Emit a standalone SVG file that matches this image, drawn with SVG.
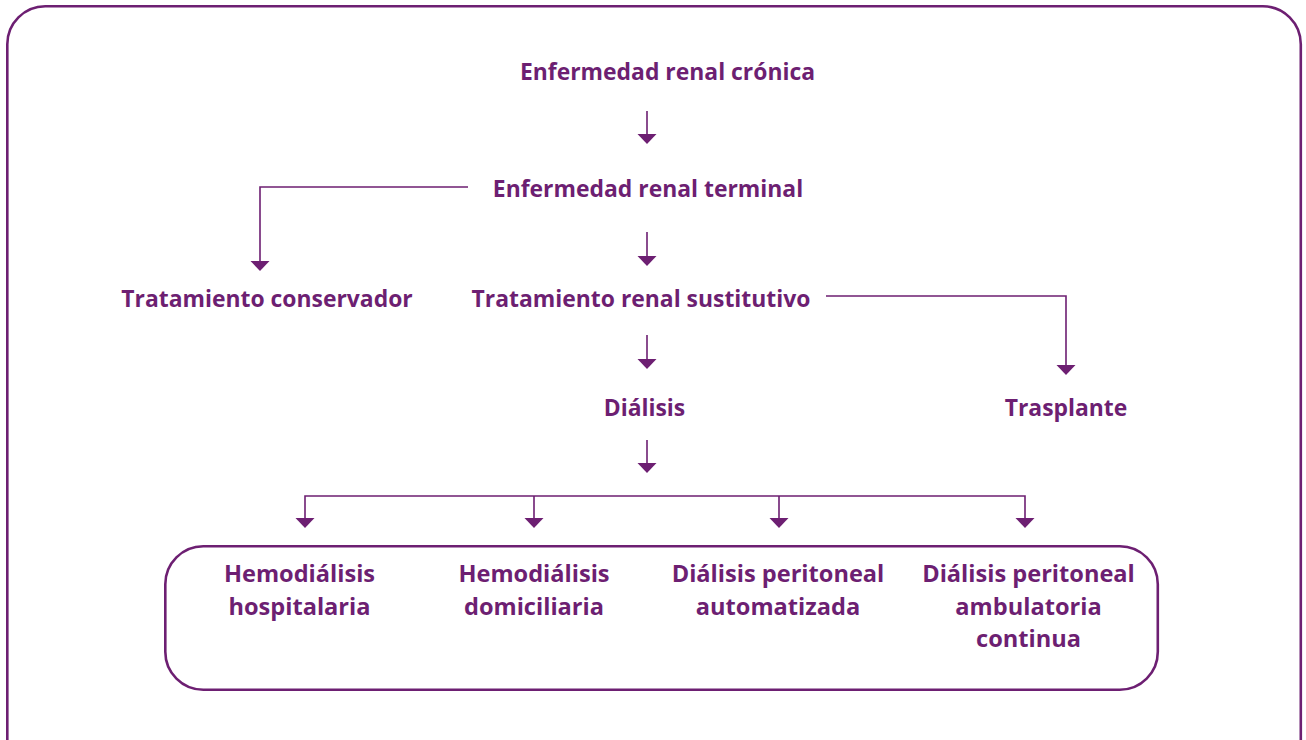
<svg xmlns="http://www.w3.org/2000/svg" width="1306" height="740" viewBox="0 0 1306 740">
<defs>
<style>
.t{font-family:"Open Sans","Liberation Sans",sans-serif;font-weight:700;font-size:22.9px;fill:#6d1f72;text-anchor:middle}
.b{font-size:23.6px}
.ln{fill:none;stroke:#6d1f72;stroke-width:1.6}
.fr{fill:none;stroke:#6d1f72;stroke-width:2.6}
.ah{fill:#6d1f72}
</style>
</defs>
<rect id="frame" class="fr" x="7.3" y="6.3" width="1293.5" height="780" rx="38" ry="38"/>
<g id="connectors">
<path class="ln" d="M647,111 V134"/><path class="ah" d="M637.5,134 H656.5 L647,144 Z"/>
<path class="ln" d="M647,232 V256"/><path class="ah" d="M637.5,256 H656.5 L647,266 Z"/>
<path class="ln" d="M647,335 V359"/><path class="ah" d="M637.5,359 H656.5 L647,369 Z"/>
<path class="ln" d="M647,440 V463"/><path class="ah" d="M637.5,463 H656.5 L647,473 Z"/>
<path class="ln" d="M468,187 H260 V261"/><path class="ah" d="M250.5,261 H269.5 L260,271 Z"/>
<path class="ln" d="M826,296 H1066 V365"/><path class="ah" d="M1056.5,365 H1075.5 L1066,375 Z"/>
<path class="ln" d="M305,518 V496 H1025 V518 M534,496 V518 M779,496 V518"/>
<path class="ah" d="M295.5,518 H314.5 L305,528 Z"/>
<path class="ah" d="M524.5,518 H543.5 L534,528 Z"/>
<path class="ah" d="M769.5,518 H788.5 L779,528 Z"/>
<path class="ah" d="M1015.5,518 H1034.5 L1025,528 Z"/>
</g>
<g id="n-erc"><text class="t" x="667.5" y="80">Enfermedad renal crónica</text></g>
<g id="n-ert"><text class="t" x="648" y="197">Enfermedad renal terminal</text></g>
<g id="n-tc"><text class="t" x="267" y="307">Tratamiento conservador</text></g>
<g id="n-trs"><text class="t" x="641" y="307">Tratamiento renal sustitutivo</text></g>
<g id="n-dial"><text class="t" x="644.5" y="416">Diálisis</text></g>
<g id="n-tras"><text class="t" x="1066" y="416">Trasplante</text></g>
<g id="n-modal">
<rect class="fr" x="165.3" y="546.3" width="992.5" height="143.5" rx="38" ry="38"/>
<text class="t b" x="299.5" y="582">Hemodiálisis</text>
<text class="t b" x="299.5" y="615">hospitalaria</text>
<text class="t b" x="534" y="582">Hemodiálisis</text>
<text class="t b" x="534" y="615">domiciliaria</text>
<text class="t b" x="778" y="582">Diálisis peritoneal</text>
<text class="t b" x="778" y="615">automatizada</text>
<text class="t b" x="1028.5" y="582">Diálisis peritoneal</text>
<text class="t b" x="1028.5" y="615">ambulatoria</text>
<text class="t b" x="1028.5" y="647">continua</text>
</g>
</svg>
